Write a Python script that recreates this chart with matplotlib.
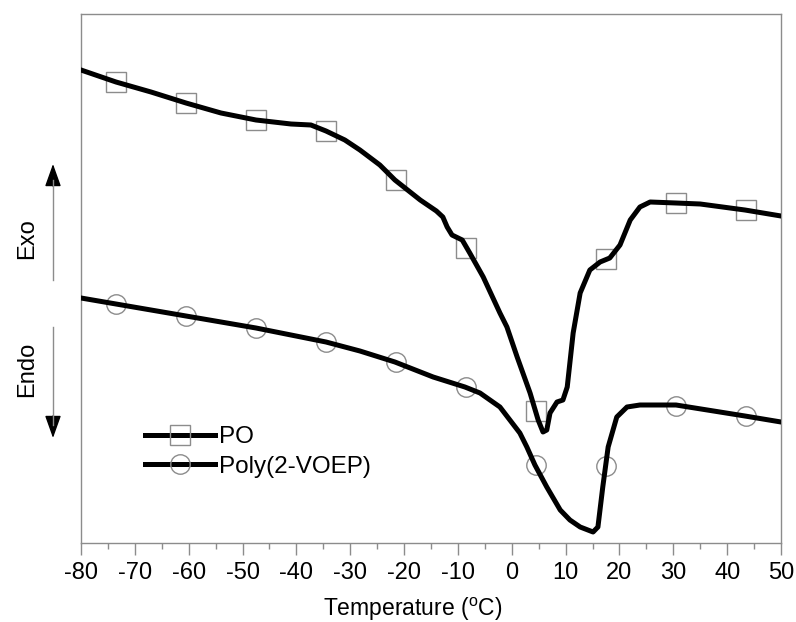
import numpy as np
import matplotlib
matplotlib.use("Agg")
import matplotlib.pyplot as plt
from matplotlib.lines import Line2D

plt.rcParams['font.family'] = ['Liberation Sans', 'DejaVu Sans']
plt.rcParams['mathtext.fontset'] = 'custom'
plt.rcParams['mathtext.rm'] = 'Liberation Sans'
plt.rcParams['axes.unicode_minus'] = False

# DSC traces, heat flow in arbitrary units (no y scale on the original)
po_temp = [-80.0, -73.5, -67.0, -60.5, -54.0, -47.5, -41.0, -37.3, -34.5, -31.0,
           -28.2, -24.5, -21.7, -17.0, -14.0, -12.8, -12.0, -11.1, -9.2, -7.8, -5.3,
           -2.2, -0.9, 1.0, 3.4, 4.9, 5.8, 6.5, 7.1, 8.4, 9.5,
           10.3, 11.4, 12.7, 14.5, 16.4, 18.2, 20.1, 22.0, 23.8, 25.7,
           30.5, 35.0, 43.3, 50.0]
po_heat = [473, 461, 451, 440, 430, 423, 419, 418, 412, 403,
           393, 378, 363, 343, 332, 326, 316, 308, 303, 290, 266,
           230, 216, 186, 150, 123, 111, 113, 130, 141, 143,
           156, 210, 250, 273, 281, 285, 298, 323, 336, 341,
           340, 339, 333, 327]

poly_temp = [-80.0, -73.5, -60.5, -47.5, -34.5, -28.2, -21.7, -14.6, -8.7, -5.9,
             -2.2, 1.5, 2.8, 4.3, 6.5, 9.0, 10.8, 12.7, 15.1, 16.0,
             16.9, 17.9, 19.5, 21.4, 23.8, 30.5, 43.3, 50.0]
poly_heat = [245, 239, 227, 215, 201, 192, 181, 166, 156, 150,
             136, 110, 96, 78, 56, 33, 23, 16, 11, 16,
             56, 96, 126, 136, 138, 138, 127, 121]

# symbol positions along each trace
mark_temp = [-73.5, -60.5, -47.5, -34.5, -21.5, -8.5, 4.5, 17.5, 30.5, 43.5]
po_mark = [461, 440, 423, 412, 363, 295, 132, 284, 340, 333]
poly_mark = [239, 227, 215, 201, 181, 156, 78, 77, 137, 127]

fig = plt.figure(figsize=(7.96, 6.22), dpi=100)
ax = fig.add_axes([81/796, 79/622, 700/796, 529/622])

grey = '#8c8c8c'
ax.plot(mark_temp, po_mark, ls='none', marker='s', ms=14, mfc='none',
        mec=grey, mew=1.0, zorder=2)
ax.plot(mark_temp, poly_mark, ls='none', marker='o', ms=14, mfc='none',
        mec=grey, mew=1.0, zorder=2)
ax.plot(po_temp, po_heat, color='black', lw=3.6, solid_joinstyle='round', zorder=3)
ax.plot(poly_temp, poly_heat, color='black', lw=3.6, solid_joinstyle='round', zorder=3)

ax.set_xlim(-80, 50)
ax.set_ylim(0, 529)
ax.set_xticks(np.arange(-80, 51, 10))
ax.set_xticks(np.arange(-75, 50, 10), minor=True)
ax.set_yticks([])
ax.tick_params(axis='x', which='major', length=8.5, width=1, color=grey,
               labelsize=17, pad=5, direction='out')
ax.tick_params(axis='x', which='minor', length=4.5, width=1, color=grey,
               direction='out')
for s in ax.spines.values():
    s.set_color(grey)
    s.set_linewidth(1.0)

ax.set_xlabel('Temperature ($^{\\rm o}$C)', fontsize=16.5)
ax.xaxis.set_label_coords((413 - 81) / 700, -0.1)

handles = [Line2D([], [], color='black', lw=3.6, marker='s', ms=14, mfc='none', mec=grey, mew=1.0),
           Line2D([], [], color='black', lw=3.6, marker='o', ms=14, mfc='none', mec=grey, mew=1.0)]
ax.legend(handles, ['PO', 'Poly(2-VOEP)'], loc='upper left',
          bbox_to_anchor=(0.06, 0.262), frameon=False, fontsize=17.5,
          handlelength=2.9, handletextpad=0.15, labelspacing=0.3)

# Exo / Endo arrows at the left
fig.text(27/796, 1 - 239/622, 'Exo', rotation=90, fontsize=17,
         ha='center', va='center')
fig.text(27/796, 1 - 369/622, 'Endo', rotation=90, fontsize=17,
         ha='center', va='center')
fig.add_artist(Line2D([53/796, 53/796], [1 - 280/622, 1 - 180/622],
                      color=grey, lw=1.0))
fig.add_artist(Line2D([53/796, 53/796], [1 - 327/622, 1 - 425/622],
                      color=grey, lw=1.0))
head = '-|>,head_length=1.4,head_width=0.5'
ax.annotate('', xy=(53/796, 1 - 164/622), xytext=(53/796, 1 - 186/622),
            xycoords='figure fraction',
            arrowprops=dict(arrowstyle=head, color='black', lw=1.0,
                            shrinkA=0, shrinkB=0))
ax.annotate('', xy=(53/796, 1 - 438/622), xytext=(53/796, 1 - 416/622),
            xycoords='figure fraction',
            arrowprops=dict(arrowstyle=head, color='black', lw=1.0,
                            shrinkA=0, shrinkB=0))

fig.savefig('out.png', dpi=100)
